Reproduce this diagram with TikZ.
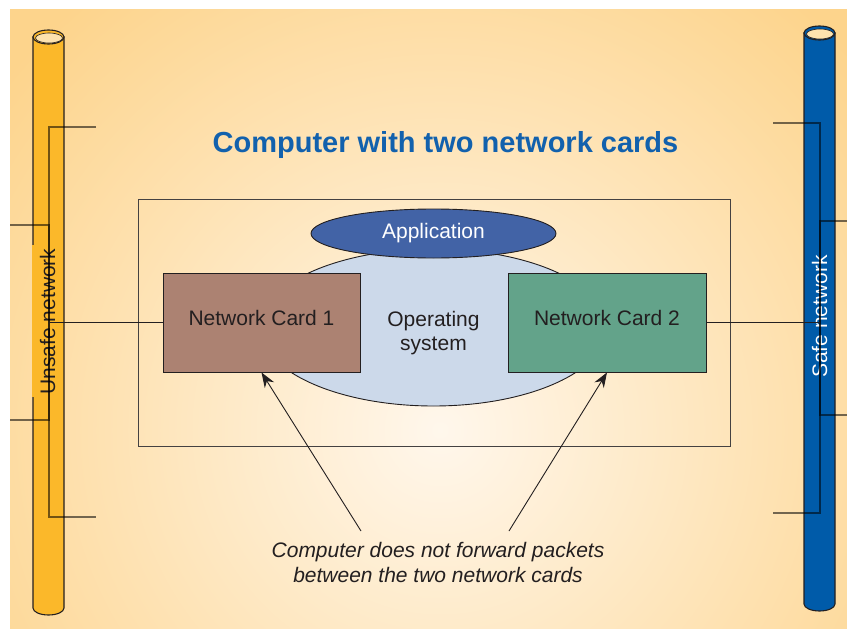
\documentclass[tikz,border=0pt]{standalone}
\usepackage{fontspec}
\setmainfont{Liberation Sans}
\usetikzlibrary{arrows.meta,shapes.geometric,calc}

\definecolor{bgout}{HTML}{FDD48C}
\definecolor{bgin}{HTML}{FFF7EC}
\definecolor{pipeL}{HTML}{FBB82A}
\definecolor{pipeR}{HTML}{005BA9}
\definecolor{holeC}{HTML}{FDE2AE}
\definecolor{cardA}{HTML}{AC8272}
\definecolor{cardB}{HTML}{63A38A}
\definecolor{osC}{HTML}{CCD9EA}
\definecolor{appC}{HTML}{4263A6}
\definecolor{titleC}{HTML}{1261AD}
\definecolor{inkC}{HTML}{231F20}

\tikzset{
  txt/.style={font=\fontsize{21}{24.5}\selectfont, text=inkC, inner sep=0pt},
  card/.style={draw=inkC, line width=0.9pt, minimum width=197pt, minimum height=99pt, inner sep=0pt},
  pipe/.style={draw=inkC, line width=1.1pt},
  wire/.style={draw=black, line width=1.1pt, opacity=0.55},
  link/.style={draw=inkC, line width=0.9pt},
  pointer/.style={draw=inkC, line width=0.9pt, -{Stealth[length=15pt,width=11pt]}},
}

\begin{document}
\begin{tikzpicture}[x=1pt,y=-1pt]
\useasboundingbox (0,0) rectangle (847,629);

% background panel with a soft radial glow
\fill[bgout] (10,9) rectangle (847,629);
\begin{scope}
  \clip (10,9) rectangle (847,629);
  \shade[inner color=bgin, outer color=bgout] (440,430) circle (560);
\end{scope}

% left (unsafe) network pipe
\filldraw[pipe, fill=pipeL] (33,37) -- (33,608)
  arc[start angle=180, end angle=0, x radius=15.5, y radius=7] -- (64,37) -- cycle;
\filldraw[pipe, fill=pipeL] (48.5,37) ellipse[x radius=15.5, y radius=7];
\filldraw[draw=inkC, line width=0.6pt, fill=holeC] (49,38) ellipse[x radius=13.5, y radius=5];
\fill[pipeL] (31.5,245) rectangle (40,397);

% right (safe) network pipe
\filldraw[pipe, fill=pipeR] (804,33) -- (804,604)
  arc[start angle=180, end angle=0, x radius=15.5, y radius=7] -- (835,33) -- cycle;
\filldraw[pipe, fill=pipeR] (819.5,33) ellipse[x radius=15.5, y radius=7];
\filldraw[draw=inkC, line width=0.6pt, fill=holeC] (820,34) ellipse[x radius=13.5, y radius=5];

% pipe labels
\node[txt, rotate=90, anchor=base] (unsafe) at (55,321.5) {Unsafe network};
\node[txt, rotate=90, anchor=base, text=white] (safe) at (827,316.5) {Safe network};

% taps on the pipes
\coordinate (lspine) at (49,322.5);
\coordinate (rspine) at (820,322.5);
\draw[wire] (96,127) -- (49,127) -- (49,517) -- (96,517);
\draw[wire] (10,225) -- (49,225) -- (49,420) -- (10,420);
\draw[wire] (773,123) -- (820,123) -- (820,513) -- (773,513);
\draw[wire] (847,221) -- (820,221) -- (820,415) -- (847,415);

% title
\node[font=\bfseries\fontsize{29}{34}\selectfont, text=titleC, anchor=base, inner sep=0pt]
  (title) at (445.5,152) {Computer with two network cards};

% computer box
\node[draw=inkC!85, line width=0.9pt, minimum width=592pt, minimum height=247pt, inner sep=0pt]
  (host) at (434,322.5) {};

% operating system and application
\node[ellipse, draw=inkC, line width=0.9pt, fill=osC, minimum width=347pt, minimum height=157pt, inner sep=0pt]
  (os) at (433.5,327.5) {};
\node[ellipse, draw=inkC, line width=0.9pt, fill=appC, minimum width=245pt, minimum height=49pt, inner sep=0pt]
  (app) at (433.5,233.5) {};
\node[txt, text=white, anchor=base] (applbl) at (433.5,238) {Application};
\node[txt, align=center] (oslbl) at (433.5,333.3) {Operating\\system};

% network cards
\node[card, fill=cardA] (nc1) at (261.5,322.5) {};
\node[card, fill=cardB, minimum width=198pt] (nc2) at (607,322.5) {};
\node[txt, anchor=base] (nc1lbl) at ($(nc1.center)+(0,2.5)$) {Network Card 1};
\node[txt, anchor=base] (nc2lbl) at ($(nc2.center)+(0,2.5)$) {Network Card 2};

% cards wired to the pipes
\draw[link] (nc1.west) -- (lspine);
\draw[link] (nc2.east) -- (rspine);

% note with pointers to both cards
\node[txt, font=\itshape\fontsize{21}{25}\selectfont, align=center] (note) at (438,562.4)
  {Computer does not forward packets\\between the two network cards};
\coordinate (s1) at (361,531);
\coordinate (s2) at (509,531);
\draw[pointer] (s1) -- (nc1.south);
\draw[pointer] (s2) -- (nc2.south);
\end{tikzpicture}
\end{document}
